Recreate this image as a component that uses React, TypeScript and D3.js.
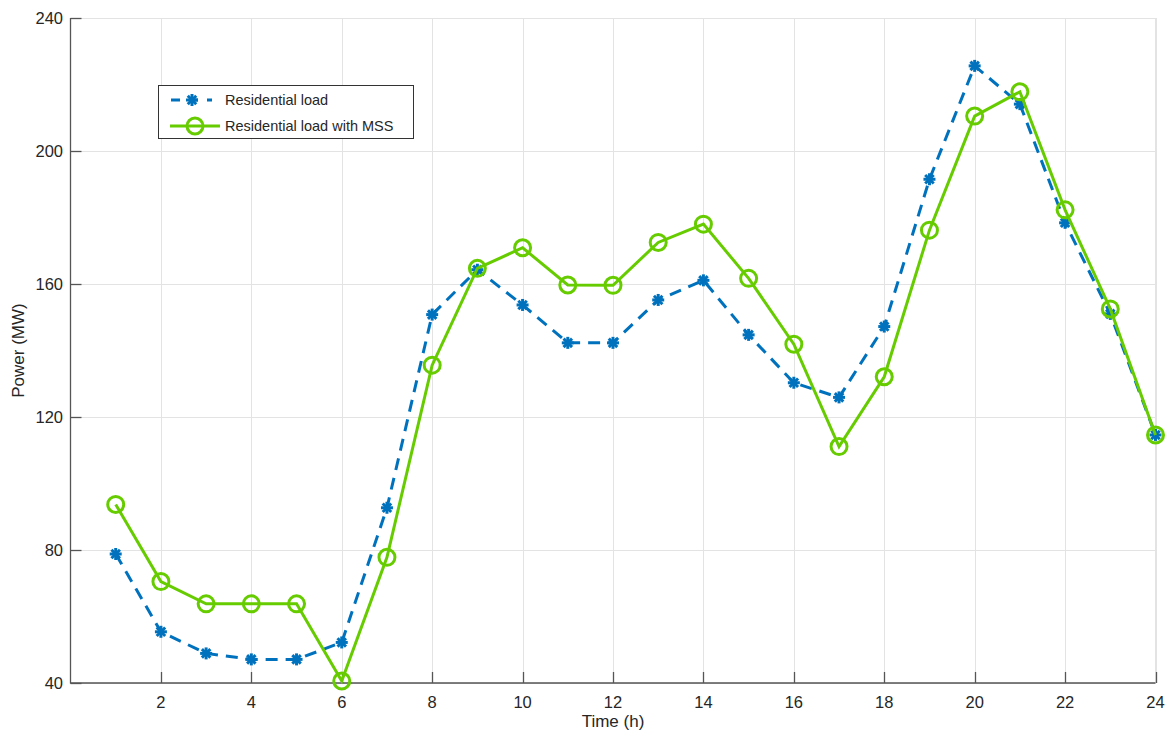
import React from "react";
import * as d3 from "d3";

const hours = [1,2,3,4,5,6,7,8,9,10,11,12,13,14,15,16,17,18,19,20,21,22,23,24];
const residentialLoad = [78.8,55.4,48.9,47.1,47.1,52.2,92.7,150.8,164.3,153.7,142.3,142.3,155.2,161.1,144.7,130.3,125.9,147.2,191.5,225.6,214.1,178.4,151.0,114.6];
const residentialLoadMSS = [93.7,70.5,63.8,63.8,63.8,40.6,77.8,135.6,164.7,170.9,159.7,159.6,172.5,178.0,161.7,141.9,111.1,132.1,176.2,210.5,217.8,182.3,152.5,114.6];
const xTicks = [2,4,6,8,10,12,14,16,18,20,22,24];
const yTicks = [40,80,120,160,200,240];
const seriesNames = ["Residential load", "Residential load with MSS"];

const W = 1169, H = 736;
const L = 70.5, R = 1155.5, T = 18, B = 683;
const BLUE = "#0072BD";
const GREEN = "#66CC00";
const TXT = "#262626";
const FONT = "Arial, 'Liberation Sans', Helvetica, sans-serif";

function Asterisk({ cx, cy, s = 6 }: { cx: number; cy: number; s?: number }) {
  const d = s * 0.7071;
  return (
    <g stroke={BLUE} strokeWidth={3} strokeLinecap="butt">
      <line x1={cx - s} y1={cy} x2={cx + s} y2={cy} />
      <line x1={cx} y1={cy - s} x2={cx} y2={cy + s} />
      <line x1={cx - d} y1={cy - d} x2={cx + d} y2={cy + d} />
      <line x1={cx - d} y1={cy + d} x2={cx + d} y2={cy - d} />
    </g>
  );
}

export default function App() {
  const x = d3.scaleLinear().domain([0, 24]).range([L, R]);
  const y = d3.scaleLinear().domain([40, 240]).range([B, T]);
  const line = d3.line<number>().x((_, i) => x(hours[i])).y((v) => y(v));

  const legX = 158.5, legY = 85.5, legW = 255, legH = 53;

  return (
    <svg width={W} height={H} style={{ position: "absolute", left: 0, top: 0, background: "#fff" }} fontFamily={FONT}>
      <rect x={0} y={0} width={W} height={H} fill="#fff" />
      {/* grid */}
      <g stroke="#e3e3e3" strokeWidth={1}>
        {xTicks.map((t) => (
          <line key={"gx" + t} x1={Math.round(x(t)) + 0.5} x2={Math.round(x(t)) + 0.5} y1={T} y2={B} />
        ))}
        {yTicks.map((t) => (
          <line key={"gy" + t} x1={L} x2={R} y1={Math.round(y(t)) + 0.5} y2={Math.round(y(t)) + 0.5} />
        ))}
        <line x1={L} x2={R} y1={T + 0.5} y2={T + 0.5} />
        <line x1={R} x2={R} y1={T} y2={B} />
      </g>
      {/* axes */}
      <g stroke="#555" strokeWidth={1.3}>
        <line x1={L} x2={L} y1={T} y2={B + 0.5} />
        <line x1={L} x2={R} y1={B} y2={B} />
        {xTicks.map((t) => (
          <line key={"tx" + t} x1={Math.round(x(t)) + 0.5} x2={Math.round(x(t)) + 0.5} y1={B} y2={B - 11} />
        ))}
        {yTicks.map((t) => (
          <line key={"ty" + t} x1={L} x2={L + 11} y1={Math.round(y(t)) + 0.5} y2={Math.round(y(t)) + 0.5} />
        ))}
      </g>
      {/* tick labels */}
      <g fill={TXT} fontSize={16.5}>
        {xTicks.map((t) => (
          <text key={"lx" + t} x={x(t)} y={708} textAnchor="middle">{t}</text>
        ))}
        {yTicks.map((t) => (
          <text key={"ly" + t} x={63} y={y(t) + 6} textAnchor="end">{t}</text>
        ))}
      </g>
      <text x={(L + R) / 2} y={727} textAnchor="middle" fontSize={17} fill={TXT}>Time (h)</text>
      <text transform={`translate(24, ${(T + B) / 2}) rotate(-90)`} textAnchor="middle" fontSize={17} fill={TXT}>Power (MW)</text>

      {/* series */}
      <path d={line(residentialLoad) || ""} fill="none" stroke={BLUE} strokeWidth={3} strokeDasharray="12,8" />
      {residentialLoad.map((v, i) => (
        <Asterisk key={"a" + i} cx={x(hours[i])} cy={y(v)} />
      ))}
      <path d={line(residentialLoadMSS) || ""} fill="none" stroke={GREEN} strokeWidth={3} />
      {residentialLoadMSS.map((v, i) => (
        <circle key={"c" + i} cx={x(hours[i])} cy={y(v)} r={8} fill="none" stroke={GREEN} strokeWidth={3} />
      ))}

      {/* legend */}
      <rect x={legX} y={legY} width={legW} height={legH} fill="#fff" stroke="#333" strokeWidth={1} />
      <line x1={171} x2={212} y1={100} y2={100} stroke={BLUE} strokeWidth={3} strokeDasharray="9,9" />
      <Asterisk cx={192} cy={100} />
      <text x={225} y={105} fontSize={14.5} fill={TXT}>{seriesNames[0]}</text>
      <line x1={170} x2={220} y1={126} y2={126} stroke={GREEN} strokeWidth={3} />
      <circle cx={195} cy={126} r={8} fill="none" stroke={GREEN} strokeWidth={3} />
      <text x={225} y={131} fontSize={14.5} fill={TXT}>{seriesNames[1]}</text>
    </svg>
  );
}
